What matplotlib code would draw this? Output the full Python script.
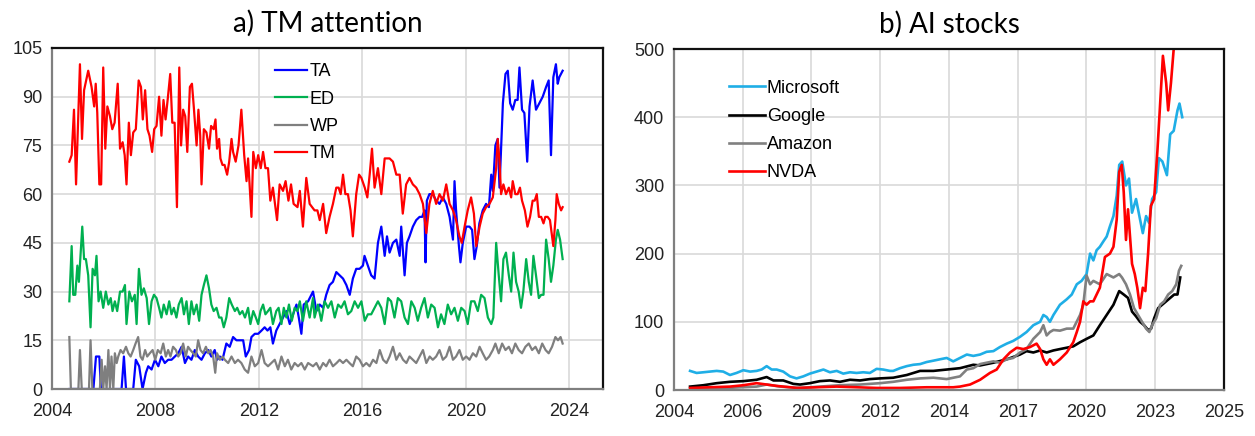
import numpy as np
import matplotlib
matplotlib.use("Agg")
import matplotlib.pyplot as plt

plt.rcParams['font.family'] = ['Liberation Sans', 'DejaVu Sans']

# ---- panel a) TM attention (Google-trends style index, 0-100) ----
tm_t = [2004.67, 2004.76, 2004.85, 2004.93, 2005.08, 2005.16, 2005.24, 2005.40, 2005.53, 2005.63,
        2005.69, 2005.75, 2005.83, 2005.90, 2005.98, 2006.06, 2006.14, 2006.24, 2006.33, 2006.42,
        2006.54, 2006.63, 2006.73, 2006.81, 2006.88, 2006.97, 2007.05, 2007.14, 2007.24, 2007.35,
        2007.44, 2007.51, 2007.60, 2007.69, 2007.77, 2007.87, 2007.95, 2008.04, 2008.14, 2008.23,
        2008.31, 2008.39, 2008.47, 2008.57, 2008.65, 2008.74, 2008.83, 2008.92, 2008.99, 2009.07,
        2009.15, 2009.23, 2009.33, 2009.41, 2009.48, 2009.59, 2009.66, 2009.73, 2009.78, 2009.87,
        2009.97, 2010.07, 2010.15, 2010.25, 2010.32, 2010.38, 2010.46, 2010.51, 2010.59, 2010.67,
        2010.77, 2010.85, 2010.94, 2011.00, 2011.10, 2011.21, 2011.32, 2011.43, 2011.52, 2011.58,
        2011.71, 2011.78, 2011.88, 2011.97, 2012.07, 2012.16, 2012.25, 2012.35, 2012.44, 2012.54,
        2012.70, 2012.80, 2012.93, 2013.03, 2013.14, 2013.24, 2013.34, 2013.49, 2013.58, 2013.70,
        2013.83, 2013.96, 2014.15, 2014.26, 2014.35, 2014.48, 2014.60, 2014.73, 2014.86, 2014.99,
        2015.08, 2015.16, 2015.25, 2015.34, 2015.44, 2015.54, 2015.63, 2015.76, 2015.87, 2015.96,
        2016.09, 2016.19, 2016.28, 2016.37, 2016.47, 2016.60, 2016.73, 2016.86, 2017.05, 2017.18,
        2017.31, 2017.44, 2017.56, 2017.69, 2017.82, 2017.95, 2018.08, 2018.21, 2018.34, 2018.47,
        2018.59, 2018.72, 2018.85, 2018.98, 2019.11, 2019.24, 2019.37, 2019.50, 2019.62, 2019.75,
        2019.84, 2019.95, 2020.07, 2020.20, 2020.31, 2020.40, 2020.53, 2020.65, 2020.78, 2020.91,
        2021.04, 2021.17, 2021.23, 2021.30, 2021.36, 2021.45, 2021.55, 2021.66, 2021.75, 2021.81,
        2021.91, 2022.00, 2022.09, 2022.17, 2022.28, 2022.38, 2022.48, 2022.58, 2022.66, 2022.74,
        2022.82, 2022.91, 2023.00, 2023.07, 2023.16, 2023.25, 2023.38, 2023.46, 2023.51, 2023.59,
        2023.68, 2023.74]
tm_v = [70, 72, 86, 63, 100, 77, 92, 98, 93, 87,
        94, 85, 63, 63, 99, 74, 87, 84, 80, 82,
        94, 74, 76, 72, 63, 82, 72, 79, 80, 95,
        93, 83, 92, 80, 78, 73, 80, 81, 90, 78,
        89, 83, 89, 97, 82, 82, 56, 99, 75, 86,
        84, 73, 93, 94, 87, 75, 86, 78, 63, 80,
        79, 74, 81, 80, 83, 74, 77, 71, 69, 69,
        66, 70, 77, 73, 70, 75, 86, 72, 64, 71,
        53, 73, 68, 72, 68, 73, 68, 68, 58, 62,
        52, 63, 61, 64, 58, 63, 57, 56, 61, 50,
        65, 57, 55, 55, 52, 57, 48, 53, 57, 62,
        62, 60, 66, 60, 60, 55, 47, 60, 66, 65,
        62, 59, 66, 74, 62, 68, 60, 71, 71, 70,
        66, 66, 54, 63, 65, 63, 62, 60, 57, 48,
        57, 61, 57, 60, 58, 63, 57, 55, 52, 47,
        45, 50, 55, 59, 54, 44, 50, 54, 56, 57,
        59, 68, 77, 70, 60, 63, 60, 62, 59, 64,
        60, 60, 62, 58, 55, 50, 53, 58, 58, 60,
        53, 53, 51, 53, 53, 52, 44, 52, 60, 57,
        55, 56]

ta_t = [2004.67, 2005.60, 2005.70, 2005.83, 2005.89, 2006.69, 2006.78, 2006.86, 2007.14, 2007.24,
        2007.37, 2007.50, 2007.63, 2007.72, 2007.85, 2007.98, 2008.11, 2008.23, 2008.36, 2008.49,
        2008.62, 2008.75, 2008.88, 2009.01, 2009.14, 2009.26, 2009.39, 2009.52, 2009.65, 2009.78,
        2009.91, 2010.04, 2010.16, 2010.29, 2010.38, 2010.49, 2010.59, 2010.74, 2010.87, 2011.00,
        2011.13, 2011.26, 2011.39, 2011.49, 2011.62, 2011.71, 2011.84, 2011.97, 2012.10, 2012.22,
        2012.33, 2012.44, 2012.54, 2012.67, 2012.80, 2012.93, 2013.06, 2013.19, 2013.32, 2013.45,
        2013.54, 2013.64, 2013.73, 2013.90, 2014.09, 2014.22, 2014.35, 2014.48, 2014.60, 2014.73,
        2014.86, 2014.99, 2015.12, 2015.25, 2015.38, 2015.51, 2015.63, 2015.76, 2015.89, 2016.02,
        2016.08, 2016.21, 2016.34, 2016.47, 2016.60, 2016.73, 2016.86, 2016.95, 2017.05, 2017.18,
        2017.31, 2017.44, 2017.50, 2017.63, 2017.72, 2017.82, 2017.95, 2018.08, 2018.21, 2018.31,
        2018.40, 2018.44, 2018.49, 2018.59, 2018.72, 2018.85, 2018.98, 2019.11, 2019.24, 2019.37,
        2019.50, 2019.56, 2019.62, 2019.73, 2019.79, 2019.88, 2020.01, 2020.14, 2020.24, 2020.33,
        2020.42, 2020.52, 2020.65, 2020.78, 2020.89, 2020.98, 2021.04, 2021.14, 2021.23, 2021.30,
        2021.43, 2021.53, 2021.62, 2021.71, 2021.81, 2021.91, 2022.00, 2022.07, 2022.17, 2022.26,
        2022.37, 2022.46, 2022.58, 2022.71, 2022.84, 2022.97, 2023.10, 2023.20, 2023.29, 2023.38,
        2023.48, 2023.55, 2023.61, 2023.74]
ta_v = [0, 0, 10, 10, 0, 0, 10, 0, 0, 9,
        7, 0, 5, 7, 6, 9, 7, 10, 8, 9,
        9, 10, 11, 13, 8, 10, 9, 12, 10, 9,
        11, 12, 10, 12, 9, 10, 9, 14, 13, 16,
        15, 15, 15, 10, 12, 16, 17, 17, 18, 19,
        18, 19, 14, 18, 20, 22, 24, 20, 23, 26,
        22, 17, 26, 27, 30, 24, 26, 25, 29, 32,
        33, 36, 35, 34, 32, 29, 34, 37, 37, 38,
        41, 38, 35, 34, 45, 50, 41, 47, 42, 45,
        46, 41, 50, 35, 45, 47, 50, 52, 53, 53,
        55, 39, 58, 60, 60, 58, 57, 59, 57, 53,
        46, 64, 55, 44, 39, 45, 50, 50, 49, 40,
        44, 51, 55, 57, 56, 66, 61, 75, 77, 62,
        88, 97, 98, 88, 86, 89, 89, 99, 86, 85,
        70, 87, 95, 86, 88, 90, 93, 95, 72, 96,
        100, 94, 96, 98]

ed_t = [2004.67, 2004.76, 2004.82, 2004.90, 2004.98, 2005.04, 2005.17, 2005.24, 2005.31, 2005.40,
        2005.49, 2005.57, 2005.66, 2005.72, 2005.80, 2005.88, 2005.98, 2006.08, 2006.18, 2006.27,
        2006.34, 2006.43, 2006.52, 2006.63, 2006.73, 2006.82, 2006.88, 2006.99, 2007.09, 2007.20,
        2007.27, 2007.36, 2007.46, 2007.55, 2007.66, 2007.75, 2007.85, 2007.94, 2008.04, 2008.14,
        2008.23, 2008.32, 2008.43, 2008.53, 2008.62, 2008.71, 2008.81, 2008.90, 2009.01, 2009.10,
        2009.20, 2009.29, 2009.39, 2009.48, 2009.59, 2009.69, 2009.78, 2009.87, 2009.97, 2010.07,
        2010.16, 2010.25, 2010.36, 2010.46, 2010.55, 2010.64, 2010.74, 2010.85, 2010.95, 2011.07,
        2011.16, 2011.26, 2011.36, 2011.46, 2011.58, 2011.67, 2011.78, 2011.88, 2011.97, 2012.06,
        2012.16, 2012.25, 2012.35, 2012.44, 2012.54, 2012.67, 2012.76, 2012.87, 2012.96, 2013.06,
        2013.16, 2013.27, 2013.38, 2013.49, 2013.58, 2013.70, 2013.83, 2013.96, 2014.09, 2014.15,
        2014.28, 2014.41, 2014.54, 2014.67, 2014.80, 2014.93, 2015.06, 2015.18, 2015.31, 2015.44,
        2015.57, 2015.70, 2015.83, 2015.96, 2016.09, 2016.21, 2016.34, 2016.47, 2016.60, 2016.73,
        2016.86, 2016.99, 2017.11, 2017.24, 2017.37, 2017.50, 2017.63, 2017.76, 2017.89, 2018.02,
        2018.14, 2018.27, 2018.40, 2018.53, 2018.66, 2018.79, 2018.92, 2019.04, 2019.17, 2019.30,
        2019.43, 2019.56, 2019.69, 2019.82, 2019.95, 2020.07, 2020.20, 2020.33, 2020.46, 2020.59,
        2020.72, 2020.85, 2020.98, 2021.06, 2021.17, 2021.27, 2021.36, 2021.45, 2021.55, 2021.66,
        2021.75, 2021.84, 2021.94, 2022.04, 2022.13, 2022.22, 2022.33, 2022.43, 2022.52, 2022.61,
        2022.71, 2022.82, 2022.91, 2023.00, 2023.10, 2023.20, 2023.29, 2023.38, 2023.48, 2023.55,
        2023.64, 2023.74]
ed_v = [27, 44, 29, 29, 38, 33, 50, 40, 40, 35,
        19, 37, 35, 41, 27, 30, 25, 30, 26, 28,
        24, 27, 24, 30, 30, 32, 20, 30, 27, 29,
        20, 37, 29, 31, 28, 20, 27, 29, 28, 25,
        22, 26, 23, 27, 23, 25, 22, 26, 28, 23,
        27, 20, 27, 23, 26, 21, 29, 32, 35, 31,
        26, 24, 25, 22, 22, 19, 22, 28, 26, 24,
        25, 23, 24, 22, 25, 20, 24, 22, 20, 24,
        26, 23, 24, 25, 20, 24, 25, 20, 25, 22,
        26, 21, 25, 24, 27, 21, 27, 22, 28, 22,
        26, 21, 27, 25, 27, 22, 26, 25, 27, 23,
        24, 27, 25, 27, 21, 23, 23, 25, 27, 25,
        20, 28, 27, 22, 28, 27, 22, 20, 27, 25,
        21, 25, 28, 22, 26, 25, 19, 23, 20, 26,
        23, 25, 21, 25, 24, 20, 27, 27, 24, 29,
        28, 22, 20, 22, 45, 35, 27, 40, 42, 35,
        30, 42, 33, 30, 25, 30, 40, 33, 29, 41,
        35, 28, 29, 29, 46, 40, 33, 38, 46, 49,
        46, 40]

wp_t = [2004.67, 2004.73, 2005.02, 2005.08, 2005.15, 2005.43, 2005.49, 2005.56, 2005.85, 2005.92,
        2005.98, 2006.05, 2006.11, 2006.18, 2006.24, 2006.30, 2006.37, 2006.43, 2006.50, 2006.56,
        2006.65, 2006.75, 2006.86, 2006.95, 2007.04, 2007.14, 2007.23, 2007.33, 2007.42, 2007.50,
        2007.60, 2007.68, 2007.78, 2007.89, 2007.99, 2008.09, 2008.20, 2008.30, 2008.40, 2008.49,
        2008.58, 2008.68, 2008.79, 2008.88, 2008.97, 2009.07, 2009.17, 2009.26, 2009.35, 2009.46,
        2009.56, 2009.65, 2009.74, 2009.84, 2009.95, 2010.04, 2010.13, 2010.23, 2010.31, 2010.38,
        2010.49, 2010.59, 2010.68, 2010.81, 2010.94, 2011.07, 2011.19, 2011.32, 2011.45, 2011.58,
        2011.71, 2011.84, 2011.97, 2012.10, 2012.22, 2012.35, 2012.48, 2012.61, 2012.74, 2012.87,
        2013.00, 2013.12, 2013.25, 2013.38, 2013.51, 2013.64, 2013.77, 2013.90, 2014.09, 2014.22,
        2014.35, 2014.48, 2014.60, 2014.73, 2014.86, 2015.00, 2015.12, 2015.25, 2015.38, 2015.50,
        2015.63, 2015.76, 2015.89, 2016.02, 2016.15, 2016.28, 2016.41, 2016.54, 2016.67, 2016.80,
        2016.93, 2017.05, 2017.18, 2017.31, 2017.44, 2017.57, 2017.70, 2017.82, 2017.95, 2018.08,
        2018.21, 2018.34, 2018.47, 2018.60, 2018.72, 2018.85, 2018.98, 2019.11, 2019.24, 2019.37,
        2019.50, 2019.62, 2019.75, 2019.88, 2020.01, 2020.14, 2020.27, 2020.40, 2020.53, 2020.65,
        2020.78, 2020.90, 2021.04, 2021.14, 2021.27, 2021.40, 2021.53, 2021.66, 2021.78, 2021.91,
        2022.04, 2022.17, 2022.30, 2022.43, 2022.56, 2022.69, 2022.82, 2022.95, 2023.08, 2023.20,
        2023.33, 2023.46, 2023.56, 2023.66, 2023.74]
wp_v = [16, 0, 0, 12, 0, 0, 15, 0, 0, 9,
        0, 7, 0, 12, 0, 10, 0, 11, 8, 10,
        12, 11, 13, 11, 10, 12, 14, 16, 10, 9,
        12, 10, 11, 12, 9, 12, 11, 14, 10, 12,
        10, 13, 12, 10, 11, 14, 10, 13, 12, 11,
        10, 15, 12, 11, 13, 11, 12, 10, 5, 11,
        9, 10, 9, 8, 10, 8, 9, 8, 6, 5,
        10, 7, 8, 12, 8, 7, 8, 9, 6, 10,
        7, 9, 6, 8, 7, 8, 6, 8, 7, 8,
        6, 8, 7, 9, 7, 8, 9, 8, 9, 8,
        7, 10, 9, 7, 8, 7, 9, 8, 12, 9,
        8, 10, 13, 9, 11, 9, 8, 10, 9, 8,
        10, 12, 8, 10, 9, 10, 12, 9, 10, 13,
        9, 10, 12, 9, 10, 9, 11, 10, 13, 11,
        9, 10, 12, 14, 11, 14, 12, 13, 11, 14,
        12, 11, 13, 14, 12, 13, 11, 14, 12, 11,
        13, 16, 15, 16, 14]

a_labels = ['TA', 'ED', 'WP', 'TM']
a_colors = ['#0000FF', '#00B050', '#7F7F7F', '#FF0000']
a_xticks = [2004, 2008, 2012, 2016, 2020, 2024]
a_yticks = [0, 15, 30, 45, 60, 75, 90, 105]

# ---- panel b) AI stocks ----
msft_t = [2004.64, 2004.90, 2005.17, 2005.43, 2005.70, 2005.96, 2006.23, 2006.49, 2006.76, 2007.03,
          2007.29, 2007.49, 2007.69, 2007.89, 2008.09, 2008.35, 2008.62, 2008.88, 2009.15, 2009.41,
          2009.68, 2009.95, 2010.21, 2010.48, 2010.74, 2011.01, 2011.27, 2011.54, 2011.80, 2012.07,
          2012.33, 2012.60, 2012.73, 2013.00, 2013.27, 2013.53, 2013.80, 2014.06, 2014.33, 2014.59,
          2014.86, 2015.12, 2015.39, 2015.66, 2015.92, 2016.19, 2016.45, 2016.72, 2016.98, 2017.25,
          2017.51, 2017.78, 2018.04, 2018.31, 2018.58, 2018.71, 2018.84, 2018.97, 2019.11, 2019.37,
          2019.64, 2019.84, 2020.04, 2020.23, 2020.43, 2020.57, 2020.70, 2020.83, 2020.96, 2021.10,
          2021.23, 2021.36, 2021.50, 2021.63, 2021.73, 2021.85, 2022.00, 2022.12, 2022.24, 2022.40,
          2022.56, 2022.67, 2022.80, 2022.92, 2023.04, 2023.20, 2023.31, 2023.45, 2023.63, 2023.76,
          2023.90, 2024.05, 2024.13, 2024.24]
msft_v = [28, 25, 26, 27, 28, 27, 22, 25, 29, 27,
          28, 30, 35, 30, 30, 27, 20, 17, 20, 24,
          27, 30, 26, 28, 24, 26, 25, 26, 25, 31,
          30, 28, 28, 32, 35, 37, 38, 41, 43, 45,
          47, 42, 47, 52, 50, 52, 56, 57, 63, 68,
          72, 78, 85, 95, 100, 110, 107, 100, 110, 125,
          133, 140, 155, 160, 170, 200, 190, 205, 210, 218,
          225, 240, 255, 285, 330, 335, 300, 310, 260, 280,
          250, 230, 255, 245, 280, 290, 340, 335, 315, 375,
          380, 410, 420, 400]

goog_t = [2004.64, 2005.17, 2005.70, 2006.23, 2006.76, 2007.29, 2007.69, 2007.96, 2008.35, 2008.75,
          2009.02, 2009.41, 2009.81, 2010.21, 2010.61, 2011.01, 2011.41, 2011.80, 2012.20, 2012.73,
          2013.27, 2013.80, 2014.33, 2014.86, 2015.39, 2015.92, 2016.19, 2016.72, 2017.25, 2017.78,
          2018.04, 2018.31, 2018.58, 2018.84, 2019.11, 2019.37, 2019.64, 2019.90, 2020.17, 2020.43,
          2020.70, 2020.96, 2021.23, 2021.50, 2021.73, 2021.91, 2022.08, 2022.24, 2022.40, 2022.56,
          2022.72, 2022.88, 2023.00, 2023.12, 2023.28, 2023.44, 2023.60, 2023.76, 2023.92, 2024.05,
          2024.16]
goog_v = [5, 7, 10, 12, 13, 15, 19, 14, 14, 9,
          8, 10, 13, 14, 12, 15, 14, 16, 17, 18,
          22, 28, 28, 30, 32, 37, 36, 40, 45, 52,
          57, 55, 58, 55, 58, 60, 62, 64, 70, 75,
          80, 95, 110, 125, 145, 140, 135, 115, 108, 100,
          95, 88, 90, 105, 120, 125, 130, 135, 140, 140,
          165]

amzn_t = [2004.64, 2006.09, 2007.29, 2007.69, 2008.22, 2009.02, 2009.81, 2010.61, 2011.41, 2012.20,
          2012.73, 2013.27, 2013.80, 2014.33, 2014.86, 2015.39, 2015.66, 2015.92, 2016.19, 2016.45,
          2016.72, 2016.98, 2017.25, 2017.51, 2017.78, 2018.04, 2018.31, 2018.58, 2018.71, 2018.84,
          2018.97, 2019.11, 2019.37, 2019.64, 2019.90, 2020.17, 2020.30, 2020.43, 2020.57, 2020.70,
          2020.96, 2021.23, 2021.50, 2021.73, 2021.84, 2022.00, 2022.16, 2022.32, 2022.48, 2022.64,
          2022.80, 2022.93, 2023.04, 2023.20, 2023.36, 2023.52, 2023.68, 2023.84, 2024.00, 2024.11,
          2024.20]
amzn_v = [2, 3, 5, 8, 5, 3, 5, 7, 8, 10,
          12, 15, 17, 18, 16, 20, 30, 32, 38, 40,
          42, 40, 45, 47, 55, 60, 75, 85, 95, 80,
          85, 88, 87, 90, 90, 110, 125, 168, 155, 160,
          155, 170, 165, 170, 165, 155, 140, 120, 110, 100,
          90, 85, 95, 105, 125, 130, 140, 145, 155, 175,
          182]

nvda_t = [2004.64, 2005.43, 2006.23, 2006.76, 2007.29, 2007.69, 2008.09, 2008.88, 2009.68, 2010.48,
          2011.27, 2012.07, 2013.00, 2014.06, 2015.12, 2015.39, 2015.79, 2016.19, 2016.58, 2016.85,
          2017.12, 2017.38, 2017.65, 2017.91, 2018.18, 2018.44, 2018.58, 2018.71, 2018.84, 2018.97,
          2019.11, 2019.37, 2019.64, 2019.90, 2020.04, 2020.17, 2020.30, 2020.43, 2020.57, 2020.70,
          2020.96, 2021.16, 2021.36, 2021.50, 2021.63, 2021.73, 2021.83, 2021.91, 2022.00, 2022.08,
          2022.16, 2022.24, 2022.35, 2022.45, 2022.56, 2022.67, 2022.77, 2022.88, 2022.99, 2023.12,
          2023.25, 2023.36, 2023.47, 2023.60, 2023.68, 2023.79, 2023.90, 2024.00]
nvda_v = [3, 4, 5, 7, 10, 8, 6, 3, 4, 5,
          4, 3, 3, 4, 4, 5, 8, 15, 25, 30,
          45, 55, 62, 60, 63, 68, 60, 45, 37, 45,
          37, 45, 55, 70, 85, 100, 130, 125, 130, 130,
          150, 195, 200, 210, 250, 320, 330, 290, 220, 265,
          225, 185, 170, 150, 120, 150, 145, 200, 270, 280,
          350, 420, 490, 450, 410, 450, 500, 560]

b_labels = ['Microsoft', 'Google', 'Amazon', 'NVDA']
b_colors = ['#1FAEE6', '#000000', '#808080', '#FF0000']
b_ticklabels = ['2004', '2006', '2009', '2012', '2014', '2017', '2020', '2023', '2025']
b_yticks = [0, 100, 200, 300, 400, 500]


def style_axes(ax):
    ax.grid(True, color='#D9D9D9', linewidth=1.2)
    ax.set_axisbelow(True)
    ax.tick_params(length=0, labelsize=13, colors='#222222')
    ax.tick_params(axis='x', pad=10)
    ax.tick_params(axis='y', pad=7)
    for side in ['top', 'right']:
        ax.spines[side].set_color('#111111')
        ax.spines[side].set_linewidth(1.6)
    for side in ['left', 'bottom']:
        ax.spines[side].set_color('#7F7F7F')
        ax.spines[side].set_linewidth(1.6)


fig = plt.figure(figsize=(12.55, 4.36), dpi=100)

ax1 = fig.add_axes([52 / 1255, 47 / 436, 551 / 1255, 341 / 436])
series_a = [(ta_t, ta_v), (ed_t, ed_v), (wp_t, wp_v), (tm_t, tm_v)]
for (t, v), lab, col in zip(series_a, a_labels, a_colors):
    ax1.plot(t, v, color=col, linewidth=1.6, label=lab)
ax1.set_xlim(2004, 2025.3)
ax1.set_ylim(0, 105)
ax1.set_xticks(a_xticks)
ax1.set_yticks(a_yticks)
style_axes(ax1)
ax1.set_title('a) TM attention', fontsize=20, family=['Lato', 'DejaVu Sans'], pad=12)
ax1.legend(loc='upper left', bbox_to_anchor=(0.405, 0.955), frameon=False, fontsize=13,
           handlelength=1.75, handletextpad=0.15, labelspacing=0.57, borderpad=0,
           borderaxespad=0)

ax2 = fig.add_axes([674 / 1255, 46 / 436, 550 / 1255, 341 / 436])
series_b = [(msft_t, msft_v), (goog_t, goog_v), (amzn_t, amzn_v), (nvda_t, nvda_v)]
for (t, v), lab, col in zip(series_b, b_labels, b_colors):
    ax2.plot(t, v, color=col, linewidth=1.9, label=lab)
b_step = 1000 / 365.25  # date axis with 1000-day major unit
b_xticks = [2004 + i * b_step for i in range(len(b_ticklabels))]
ax2.set_xlim(b_xticks[0], b_xticks[-1])
ax2.set_ylim(0, 500)
ax2.set_xticks(b_xticks)
ax2.set_xticklabels(b_ticklabels)
ax2.set_yticks(b_yticks)
style_axes(ax2)
ax2.set_title('b) AI stocks', fontsize=20, family=['Lato', 'DejaVu Sans'], pad=12)
ax2.legend(loc='upper left', bbox_to_anchor=(0.1, 0.91), frameon=False, fontsize=13,
           handlelength=2.0, handletextpad=0.1, labelspacing=0.62, borderpad=0,
           borderaxespad=0)

fig.savefig('out.png', dpi=100)
